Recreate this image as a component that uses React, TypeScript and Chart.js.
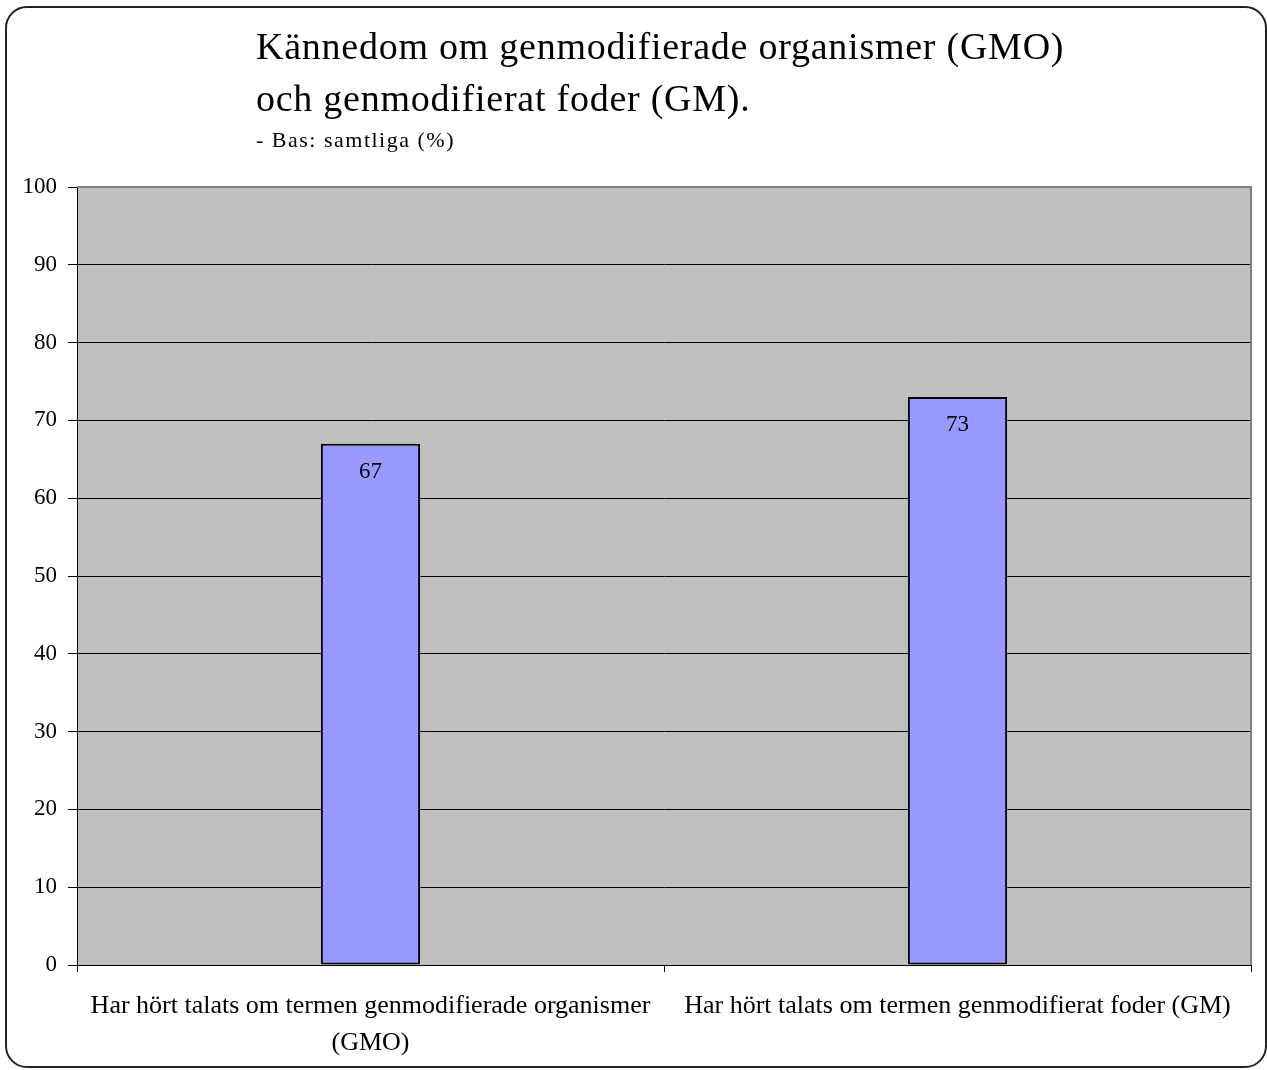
import React, { useEffect, useRef } from "react";
import { Chart, registerables } from "chart.js";

Chart.register(...registerables);

const titleLines = [
  "Kännedom om genmodifierade organismer (GMO)",
  "och genmodifierat foder (GM).",
];
const subtitle = "- Bas: samtliga (%)";
const categories: (string | string[])[] = [
  ["Har hört talats om termen genmodifierade organismer", "(GMO)"],
  "Har hört talats om termen genmodifierat foder (GM)",
];
const values = [67, 73];
const yMin = 0;
const yMax = 100;
const yStep = 10;

const FONT = "'Liberation Serif', 'Times New Roman', serif";

const plotPlugin = {
  id: "plotDecor",
  beforeDraw(chart: any) {
    const { ctx, chartArea } = chart;
    ctx.save();
    ctx.fillStyle = "#C0C0C0";
    ctx.fillRect(chartArea.left, chartArea.top, chartArea.right - chartArea.left, chartArea.bottom - chartArea.top);
    ctx.restore();
  },
  afterDatasetsDraw(chart: any) {
    const { ctx, chartArea } = chart;
    ctx.save();
    ctx.strokeStyle = "#808080";
    ctx.lineWidth = 2;
    ctx.beginPath();
    ctx.moveTo(chartArea.left, chartArea.top);
    ctx.lineTo(chartArea.right, chartArea.top);
    ctx.lineTo(chartArea.right, chartArea.bottom);
    ctx.stroke();
    const meta = chart.getDatasetMeta(0);
    ctx.fillStyle = "#000";
    ctx.font = `23px ${FONT}`;
    ctx.textAlign = "center";
    ctx.textBaseline = "middle";
    meta.data.forEach((el: any, i: number) => {
      ctx.fillText(String(values[i]), el.x, el.y + 28);
    });
    ctx.restore();
  },
};

const titleStyle = (top: number, size: number, spacing: number): React.CSSProperties => ({
  position: "absolute",
  left: 256,
  top,
  fontFamily: FONT,
  fontSize: size,
  lineHeight: `${size}px`,
  letterSpacing: `${spacing}px`,
  color: "#000",
  whiteSpace: "nowrap",
});

export default function App() {
  const ref = useRef<HTMLCanvasElement>(null);
  useEffect(() => {
    if (!ref.current) return;
    const chart = new Chart(ref.current, {
      type: "bar",
      data: {
        labels: categories,
        datasets: [
          {
            data: values,
            backgroundColor: "#9999FF",
            borderColor: "#000000",
            borderWidth: 2,
            borderSkipped: false,
            categoryPercentage: 1,
            barPercentage: 0.169,
          },
        ],
      },
      plugins: [plotPlugin],
      options: {
        animation: false,
        responsive: false,
        devicePixelRatio: 1,
        layout: { padding: { left: 0, top: 187, right: 16, bottom: 0 } },
        plugins: {
          legend: { display: false },
          title: { display: false },
          tooltip: { enabled: false },
        },
        scales: {
          x: {
            offset: true,
            grid: {
              offset: true,
              drawOnChartArea: false,
              drawTicks: true,
              tickLength: 7,
              color: "#000",
            },
            border: { color: "#000", width: 1 },
            ticks: {
              color: "#000",
              font: { family: FONT, size: 26, lineHeight: 1.45 },
              padding: 15,
              maxRotation: 0,
              autoSkip: false,
            },
            afterFit(scale: any) {
              scale.height = 105;
            },
          },
          y: {
            min: yMin,
            max: yMax,
            grid: {
              color: "#000",
              lineWidth: 1,
              tickLength: 9,
            },
            border: { color: "#000", width: 1 },
            ticks: {
              stepSize: yStep,
              color: "#000",
              font: { family: FONT, size: 23 },
              padding: 11,
            },
            afterFit(scale: any) {
              scale.width = 77;
            },
          },
        },
      },
    } as any);
    return () => chart.destroy();
  }, []);

  return (
    <div style={{ position: "absolute", left: 0, top: 0, width: 1267, height: 1070, overflow: "hidden", background: "#fff" }}>
      <div
        style={{
          position: "absolute",
          left: 5,
          top: 6,
          width: 1262,
          height: 1062,
          boxSizing: "border-box",
          border: "2px solid #222",
          borderRadius: 22,
        }}
      />
      <canvas ref={ref} width={1267} height={1070} style={{ position: "absolute", left: 0, top: 0 }} />
      <div style={titleStyle(27, 38, 0.75)}>{titleLines[0]}</div>
      <div style={titleStyle(79, 38, 0.75)}>{titleLines[1]}</div>
      <div style={titleStyle(129, 22, 1.5)}>{subtitle}</div>
    </div>
  );
}
